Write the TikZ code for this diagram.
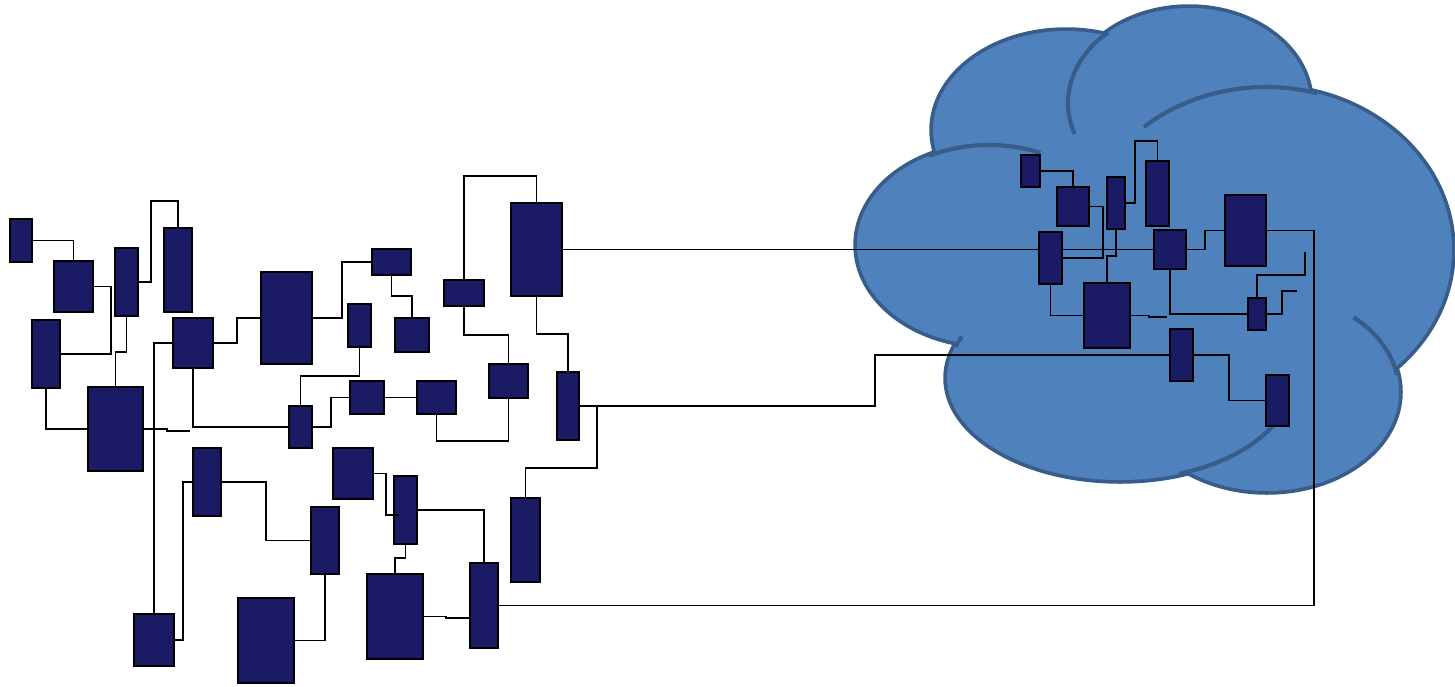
\documentclass[tikz,border=0pt]{standalone}
\definecolor{boxfill}{RGB}{27,26,100}
\definecolor{cloudfill}{RGB}{79,129,189}
\definecolor{cloudline}{RGB}{56,93,138}
\begin{document}
\begin{tikzpicture}[x=1pt,y=-1pt,
  box/.style={draw=black, fill=boxfill, line width=1.7pt, inner sep=0pt, outer sep=0pt},
  wire/.style={draw=black, line width=1.8pt},
  cl/.style={draw=cloudline, line width=4.2pt}]
\useasboundingbox (0,0) rectangle (1455,686);
% ---------- cloud ----------
\begin{scope}
\draw[cloudline, line width=7.5pt] (989,245) ellipse [x radius=132, y radius=100];
\draw[cloudline, line width=7.5pt] (1066,130) ellipse [x radius=133, y radius=99];
\draw[cloudline, line width=7.5pt] (1189,103) ellipse [x radius=121, y radius=95];
\draw[cloudline, line width=7.5pt] (1266,250) ellipse [x radius=186, y radius=163];
\draw[cloudline, line width=7.5pt] (1267,392) ellipse [x radius=132, y radius=99];
\draw[cloudline, line width=7.5pt] (1120,378) ellipse [x radius=173, y radius=102];
\fill[cloudfill] (989,245) ellipse [x radius=132, y radius=100];
\fill[cloudfill] (1066,130) ellipse [x radius=133, y radius=99];
\fill[cloudfill] (1189,103) ellipse [x radius=121, y radius=95];
\fill[cloudfill] (1266,250) ellipse [x radius=186, y radius=163];
\fill[cloudfill] (1267,392) ellipse [x radius=132, y radius=99];
\fill[cloudfill] (1120,378) ellipse [x radius=173, y radius=102];
\draw[cl] (989,245) ++(-117:132 and 100) arc[start angle=-117, end angle=-67, x radius=132, y radius=100];
\draw[cl] (1189,103) ++(-132:121 and 95) arc[start angle=-132, end angle=-199, x radius=121, y radius=95];
\draw[cl] (1266,250) ++(-131:186 and 163) arc[start angle=-131, end angle=-74, x radius=186, y radius=163];
\draw[cl] (1267,392) ++(-49:132 and 99) arc[start angle=-49, end angle=-10, x radius=132, y radius=99];
\draw[cl] (1120,378) ++(70:173 and 102) arc[start angle=70, end angle=14, x radius=173, y radius=102];
\draw[cl] (1120,378) ++(-162:173 and 102) arc[start angle=-162, end angle=-156, x radius=173, y radius=102];
\end{scope}
% ---------- left boxes ----------
\node[box, minimum width=22pt, minimum height=43pt] (B1) at (21,240.5) {};
\node[box, minimum width=39pt, minimum height=51pt] (B2) at (73.5,286.5) {};
\node[box, minimum width=23pt, minimum height=68pt] (B3) at (126.5,282) {};
\node[box, minimum width=28pt, minimum height=84pt] (B4) at (178,270) {};
\node[box, minimum width=28pt, minimum height=68pt] (B5) at (46,354) {};
\node[box, minimum width=55pt, minimum height=84pt] (B6) at (115.5,429) {};
\node[box, minimum width=40pt, minimum height=50pt] (B7) at (193,343) {};
\node[box, minimum width=51pt, minimum height=92pt] (B8) at (286.5,318) {};
\node[box, minimum width=23pt, minimum height=42pt] (B9) at (300.5,427) {};
\node[box, minimum width=39pt, minimum height=26pt] (B10) at (391.5,262) {};
\node[box, minimum width=34pt, minimum height=34pt] (B11) at (412,335) {};
\node[box, minimum width=23pt, minimum height=43pt] (B12) at (359.5,325.5) {};
\node[box, minimum width=34pt, minimum height=33pt] (B13) at (367,397.5) {};
\node[box, minimum width=39pt, minimum height=33pt] (B14) at (436.5,397.5) {};
\node[box, minimum width=39pt, minimum height=34pt] (B15) at (508.5,381) {};
\node[box, minimum width=40pt, minimum height=26pt] (B16) at (464,293) {};
\node[box, minimum width=51pt, minimum height=93pt] (B17) at (536.5,249.5) {};
\node[box, minimum width=22pt, minimum height=68pt] (B18) at (568,406) {};
\node[box, minimum width=29pt, minimum height=84pt] (B19) at (525.5,540) {};
\node[box, minimum width=28pt, minimum height=68pt] (B20) at (207,482) {};
\node[box, minimum width=40pt, minimum height=52pt] (B21) at (154,640) {};
\node[box, minimum width=28pt, minimum height=67pt] (B22) at (325,540.5) {};
\node[box, minimum width=56pt, minimum height=85pt] (B23) at (266,640.5) {};
\node[box, minimum width=40pt, minimum height=51pt] (B24) at (353,473.5) {};
\node[box, minimum width=23pt, minimum height=68pt] (B25) at (405.5,510) {};
\node[box, minimum width=28pt, minimum height=85pt] (B26) at (484,605.5) {};
\node[box, minimum width=56pt, minimum height=85pt] (B27) at (395,616.5) {};
% ---------- cloud boxes ----------
\node[box, minimum width=19pt, minimum height=32pt] (C1) at (1030.5,171) {};
\node[box, minimum width=32pt, minimum height=39pt] (C2) at (1073,206.5) {};
\node[box, minimum width=18pt, minimum height=52pt] (C3) at (1116,203) {};
\node[box, minimum width=23pt, minimum height=65pt] (C4) at (1157.5,193.5) {};
\node[box, minimum width=23pt, minimum height=52pt] (C5) at (1050.5,258) {};
\node[box, minimum width=32pt, minimum height=39pt] (C6) at (1170,249.5) {};
\node[box, minimum width=41pt, minimum height=71pt] (C7) at (1245.5,230.5) {};
\node[box, minimum width=46pt, minimum height=65pt] (C8) at (1107,315.5) {};
\node[box, minimum width=18pt, minimum height=32pt] (C9) at (1257,314) {};
\node[box, minimum width=23pt, minimum height=52pt] (C10) at (1181.5,355) {};
\node[box, minimum width=23pt, minimum height=51pt] (C11) at (1277.5,400.5) {};
% free ends
\coordinate (s1) at (190,431);
\coordinate (s2) at (399,515);
\coordinate (s3) at (1167,317);
\coordinate (s4) at (1305,252);
\coordinate (s5) at (1297,291);
% ---------- connectors ----------
\draw[wire] (B1.east) -| (B2.north);
\draw[wire] (B2.east) -| (111,354) -- (B5.east);
\draw[wire] (B3.east) -| (151,201) -| (B4.north);
\draw[wire] (B3.south) -- (126.5,352) -| (B6.north);
\draw[wire] (B5.south) |- (B6.west);
\draw[wire] (B6.east) -- (167,429) -- (167,431) -- (s1);
\draw[wire] (B7.west) -| (B21.north);
\draw[wire] (B7.east) -| (237,318) -- (B8.west);
\draw[wire] (B7.south) |- (B9.west);
\draw[wire] (B9.north) -- (300.5,376) -| (B12.south);
\draw[wire] (B8.east) -| (342,262) -- (B10.west);
\draw[wire] (B10.south) |- (412,296) -- (B11.north);
\draw[wire] (B9.east) -| (331,397.5) -- (B13.west);
\draw[wire] (B13.east) -- (B14.west);
\draw[wire] (B14.south) -- (436.5,441) -| (B15.south);
\draw[wire] (B16.north) -- (464,176) -| (B17.north);
\draw[wire] (B16.south) -- (464,335) -| (B15.north);
\draw[wire] (B17.south) -- (536.5,334) -| (B18.north);
\draw[wire] (B17.east) -- (B17.east -| C5.west);
\draw[wire] (C5.east |- C6.west) -- (C6.west);
\draw[wire] (B18.east) -| (875,355) -- (C10.west);
\draw[wire] (B18.east) -- (597,406) -- (597,468) -| (B19.north);
\draw[wire] (B21.east) -| (183,482) -- (B20.west);
\draw[wire] (B20.east) -| (266,540.5) -- (B22.west);
\draw[wire] (B22.south) |- (B23.east);
\draw[wire] (B24.east) -| (386,515) -- (s2);
\draw[wire] (B25.east) -| (B26.north);
\draw[wire] (B25.south) -- (405.5,558) -| (B27.north);
\draw[wire] (B27.east) -- (446,616.5) -- (446,618) -- (B26.west |- 0,618);
\draw[wire] (B26.east) -| (1314,230.5) -- (C7.east);
\draw[wire] (C1.east) -| (C2.north);
\draw[wire] (C2.east) -| (1103,258) -- (C5.east);
\draw[wire] (C3.east) -| (1135,141) -| (C4.north);
\draw[wire] (C3.south) -- (1116,256) -| (C8.north);
\draw[wire] (C5.south) |- (C8.west);
\draw[wire] (C8.east) -- (1149,315.5) -- (1149,317) -- (s3);
\draw[wire] (C6.east) -| (1205,230.5) -- (C7.west);
\draw[wire] (C6.south) |- (C9.west);
\draw[wire] (C9.north) -- (1257,275) -| (s4);
\draw[wire] (C9.east) -| (1282,291) -- (s5);
\draw[wire] (C10.east) -| (1229,400.5) -- (C11.west);
\end{tikzpicture}
\end{document}
